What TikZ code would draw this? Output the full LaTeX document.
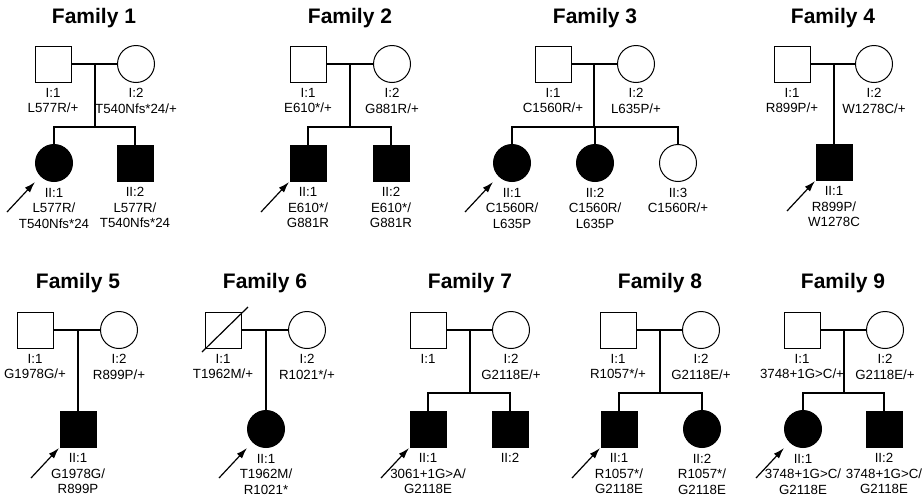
\documentclass[tikz,border=0pt]{standalone}
\usepackage{fontspec}
\setmainfont{Liberation Sans}
\usetikzlibrary{arrows.meta,calc}
\begin{document}
\begin{tikzpicture}[x=1pt,y=-1pt,
  every node/.style={inner sep=0pt, outer sep=0pt},
  male/.style={draw, rectangle, minimum size=36pt, line width=1pt},
  female/.style={draw, circle, minimum size=37pt, line width=1pt},
  aff/.style={fill=black},
  lbl/.style={align=center, font=\fontsize{13.3}{15.5}\selectfont, anchor=north},
  famtitle/.style={font=\fontsize{21}{25}\selectfont\bfseries},
  link/.style={line width=1.2pt},
  proband/.style={line width=1.2pt, -{Latex[length=11pt,width=7pt]}}
]
\useasboundingbox (0,0) rectangle (923,501);

% ---------- Family 1 ----------
\node[famtitle] (t1) at (94,18) {Family 1};
\node[male] (f1a) at (53,64) {};
\node[female] (f1b) at (136,64) {};
\node[female,aff] (f1c) at (54,163) {};
\node[male,aff] (f1d) at (135,163) {};
\coordinate (f1m) at (95,64);
\coordinate (f1s) at (95,127);
\draw[link] (f1a) -- (f1b);
\draw[link] (f1m) -- (f1s);
\draw[link] (f1c.north) -- (f1c.north |- f1s) -- (f1d.north |- f1s) -- (f1d.north);
\node[lbl] (f1al) at ($(f1a.south)+(0,6)$) {I:1\\L577R/+};
\node[lbl] (f1bl) at ($(f1b.south)+(0,6)$) {I:2\\T540Nfs*24/+};
\node[lbl] (f1cl) at ($(f1c.south)+(0,6.5)$) {II:1\\L577R/\\T540Nfs*24};
\node[lbl] (f1dl) at ($(f1d.south)+(0,6.5)$) {II:2\\L577R/\\T540Nfs*24};
\draw[proband] ($(f1c.center)+(-47,49)$) -- ($(f1c.center)+(-19,19)$);

% ---------- Family 2 ----------
\node[famtitle] (t2) at (350,18) {Family 2};
\node[male] (f2a) at (308,64) {};
\node[female] (f2b) at (392,64) {};
\node[male,aff] (f2c) at (308,163) {};
\node[male,aff] (f2d) at (391,163) {};
\coordinate (f2m) at (350,64);
\coordinate (f2s) at (350,127);
\draw[link] (f2a) -- (f2b);
\draw[link] (f2m) -- (f2s);
\draw[link] (f2c.north) -- (f2c.north |- f2s) -- (f2d.north |- f2s) -- (f2d.north);
\node[lbl] (f2al) at ($(f2a.south)+(0,6)$) {I:1\\E610*/+};
\node[lbl] (f2bl) at ($(f2b.south)+(0,6)$) {I:2\\G881R/+};
\node[lbl] (f2cl) at ($(f2c.south)+(0,6.5)$) {II:1\\E610*/\\G881R};
\node[lbl] (f2dl) at ($(f2d.south)+(0,6.5)$) {II:2\\E610*/\\G881R};
\draw[proband] ($(f2c.center)+(-47,49)$) -- ($(f2c.center)+(-19,19)$);

% ---------- Family 3 ----------
\node[famtitle] (t3) at (595,18) {Family 3};
\node[male] (f3a) at (553,64) {};
\node[female] (f3b) at (636,64) {};
\node[female,aff] (f3c) at (512,163) {};
\node[female,aff] (f3d) at (595,163) {};
\node[female] (f3e) at (678,163) {};
\coordinate (f3m) at (594,64);
\coordinate (f3s) at (594,127);
\draw[link] (f3a) -- (f3b);
\draw[link] (f3m) -- (f3s);
\draw[link] (f3c.north) -- (f3c.north |- f3s) -- (f3e.north |- f3s) -- (f3e.north);
\draw[link] (f3d.north |- f3s) -- (f3d.north);
\node[lbl] (f3al) at ($(f3a.south)+(0,6)$) {I:1\\C1560R/+};
\node[lbl] (f3bl) at ($(f3b.south)+(0,6)$) {I:2\\L635P/+};
\node[lbl] (f3cl) at ($(f3c.south)+(0,6.5)$) {II:1\\C1560R/\\L635P};
\node[lbl] (f3dl) at ($(f3d.south)+(0,6.5)$) {II:2\\C1560R/\\L635P};
\node[lbl] (f3el) at ($(f3e.south)+(0,6.5)$) {II:3\\C1560R/+};
\draw[proband] ($(f3c.center)+(-47,49)$) -- ($(f3c.center)+(-19,19)$);

% ---------- Family 4 ----------
\node[famtitle] (t4) at (833,18) {Family 4};
\node[male] (f4a) at (792,64) {};
\node[female] (f4b) at (874,64) {};
\node[male,aff] (f4c) at (834,162) {};
\coordinate (f4m) at (834,64);
\draw[link] (f4a) -- (f4b);
\draw[link] (f4m) -- (f4c.north);
\node[lbl] (f4al) at ($(f4a.south)+(0,6)$) {I:1\\R899P/+};
\node[lbl] (f4bl) at ($(f4b.south)+(0,6)$) {I:2\\W1278C/+};
\node[lbl] (f4cl) at ($(f4c.south)+(0,6.5)$) {II:1\\R899P/\\W1278C};
\draw[proband] ($(f4c.center)+(-47,49)$) -- ($(f4c.center)+(-19,19)$);

% ---------- Family 5 ----------
\node[famtitle] (t5) at (78,283) {Family 5};
\node[male] (f5a) at (35,330) {};
\node[female] (f5b) at (119,330) {};
\node[male,aff] (f5c) at (78,429) {};
\coordinate (f5m) at (78,330);
\draw[link] (f5a) -- (f5b);
\draw[link] (f5m) -- (f5c.north);
\node[lbl] (f5al) at ($(f5a.south)+(0,6)$) {I:1\\G1978G/+};
\node[lbl] (f5bl) at ($(f5b.south)+(0,6)$) {I:2\\R899P/+};
\node[lbl] (f5cl) at ($(f5c.south)+(0,6.5)$) {II:1\\G1978G/\\R899P};
\draw[proband] ($(f5c.center)+(-47,49)$) -- ($(f5c.center)+(-19,19)$);

% ---------- Family 6 ----------
\node[famtitle] (t6) at (265,283) {Family 6};
\node[male] (f6a) at (223,330) {};
\node[female] (f6b) at (307,330) {};
\node[female,aff] (f6c) at (266,429) {};
\coordinate (f6m) at (266,330);
\draw[link] (f6a) -- (f6b);
\draw[link] (f6m) -- (f6c.north);
\draw[link] ($(f6a.center)+(-21,22)$) -- ($(f6a.center)+(25,-23)$);
\node[lbl] (f6al) at ($(f6a.south)+(0,6)$) {I:1\\T1962M/+};
\node[lbl] (f6bl) at ($(f6b.south)+(0,6)$) {I:2\\R1021*/+};
\node[lbl] (f6cl) at ($(f6c.south)+(0,6.5)$) {II:1\\T1962M/\\R1021*};
\draw[proband] ($(f6c.center)+(-47,49)$) -- ($(f6c.center)+(-19,19)$);

% ---------- Family 7 ----------
\node[famtitle] (t7) at (470,283) {Family 7};
\node[male] (f7a) at (428,330) {};
\node[female] (f7b) at (511,330) {};
\node[male,aff] (f7c) at (428,429) {};
\node[male,aff] (f7d) at (510,429) {};
\coordinate (f7m) at (470,330);
\coordinate (f7s) at (470,393);
\draw[link] (f7a) -- (f7b);
\draw[link] (f7m) -- (f7s);
\draw[link] (f7c.north) -- (f7c.north |- f7s) -- (f7d.north |- f7s) -- (f7d.north);
\node[lbl] (f7al) at ($(f7a.south)+(0,6)$) {I:1};
\node[lbl] (f7bl) at ($(f7b.south)+(0,6)$) {I:2\\G2118E/+};
\node[lbl] (f7cl) at ($(f7c.south)+(0,6.5)$) {II:1\\3061+1G>A/\\G2118E};
\node[lbl] (f7dl) at ($(f7d.south)+(0,6.5)$) {II:2};
\draw[proband] ($(f7c.center)+(-47,49)$) -- ($(f7c.center)+(-19,19)$);

% ---------- Family 8 ----------
\node[famtitle] (t8) at (660,283) {Family 8};
\node[male] (f8a) at (618,330) {};
\node[female] (f8b) at (701,330) {};
\node[male,aff] (f8c) at (619,429) {};
\node[female,aff] (f8d) at (702,429) {};
\coordinate (f8m) at (660,330);
\coordinate (f8s) at (660,393);
\draw[link] (f8a) -- (f8b);
\draw[link] (f8m) -- (f8s);
\draw[link] (f8c.north) -- (f8c.north |- f8s) -- (f8d.north |- f8s) -- (f8d.north);
\node[lbl] (f8al) at ($(f8a.south)+(0,6)$) {I:1\\R1057*/+};
\node[lbl] (f8bl) at ($(f8b.south)+(0,6)$) {I:2\\G2118E/+};
\node[lbl] (f8cl) at ($(f8c.south)+(0,6.5)$) {II:1\\R1057*/\\G2118E};
\node[lbl] (f8dl) at ($(f8d.south)+(0,6.5)$) {II:2\\R1057*/\\G2118E};
\draw[proband] ($(f8c.center)+(-47,49)$) -- ($(f8c.center)+(-19,19)$);

% ---------- Family 9 ----------
\node[famtitle] (t9) at (843,283) {Family 9};
\node[male] (f9a) at (802,330) {};
\node[female] (f9b) at (885,330) {};
\node[female,aff] (f9c) at (803,429) {};
\node[male,aff] (f9d) at (884,429) {};
\coordinate (f9m) at (844,330);
\coordinate (f9s) at (844,393);
\draw[link] (f9a) -- (f9b);
\draw[link] (f9m) -- (f9s);
\draw[link] (f9c.north) -- (f9c.north |- f9s) -- (f9d.north |- f9s) -- (f9d.north);
\node[lbl] (f9al) at ($(f9a.south)+(0,6)$) {I:1\\3748+1G>C/+};
\node[lbl] (f9bl) at ($(f9b.south)+(0,6)$) {I:2\\G2118E/+};
\node[lbl] (f9cl) at ($(f9c.south)+(0,6.5)$) {II:1\\3748+1G>C/\\G2118E};
\node[lbl] (f9dl) at ($(f9d.south)+(0,6.5)$) {II:2\\3748+1G>C/\\G2118E};
\draw[proband] ($(f9c.center)+(-47,49)$) -- ($(f9c.center)+(-19,19)$);
\end{tikzpicture}
\end{document}
